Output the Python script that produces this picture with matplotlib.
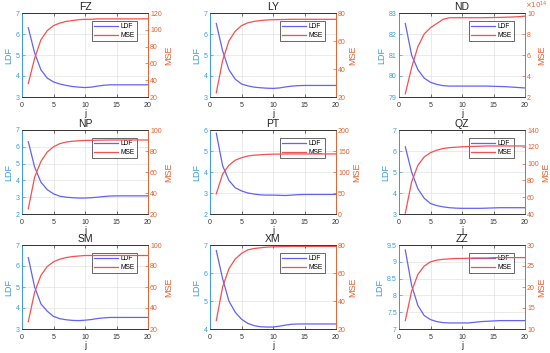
import numpy as np
import matplotlib.pyplot as plt
from matplotlib.ticker import FormatStrFormatter

plt.rcParams['font.family'] = ['Liberation Sans', 'DejaVu Sans']

# iterations
j = list(range(1, 21))

names = ["FZ", "LY", "ND", "NP", "PT", "QZ", "SM", "XM", "ZZ"]

ldf_fz = [6.3, 5.1, 4.3, 3.9, 3.72, 3.62, 3.55, 3.5, 3.47, 3.45, 3.47, 3.52, 3.56, 3.58, 3.58, 3.58, 3.58, 3.58, 3.58, 3.58]
mse_fz = [36, 66, 88, 99, 105, 108, 110, 111, 112, 112.5, 112.5, 113, 113, 113, 113, 113, 113, 113, 113, 113]

ldf_ly = [6.5, 5.2, 4.3, 3.85, 3.62, 3.53, 3.47, 3.44, 3.42, 3.41, 3.43, 3.48, 3.52, 3.54, 3.55, 3.55, 3.55, 3.55, 3.55, 3.55]
mse_ly = [23, 46, 60, 67, 71, 73, 74, 74.6, 75, 75.2, 75.3, 75.4, 75.5, 75.5, 75.5, 75.5, 75.5, 75.5, 75.5, 75.5]

ldf_nd = [82.5, 81.0, 80.3, 79.9, 79.7, 79.6, 79.54, 79.52, 79.52, 79.52, 79.52, 79.52, 79.52, 79.52, 79.51, 79.5, 79.49, 79.47, 79.45, 79.43]
mse_nd = [2.3, 4.8, 6.8, 8.0, 8.6, 9.0, 9.4, 9.55, 9.55, 9.55, 9.55, 9.55, 9.55, 9.56, 9.57, 9.58, 9.6, 9.62, 9.65, 9.7]

ldf_np = [6.3, 4.8, 3.9, 3.45, 3.2, 3.06, 3.0, 2.97, 2.95, 2.95, 2.97, 3.0, 3.04, 3.07, 3.08, 3.08, 3.08, 3.08, 3.08, 3.08]
mse_np = [25, 55, 70, 79, 84, 87, 88.5, 89.3, 89.7, 90, 90.2, 90.3, 90.4, 90.5, 90.5, 90.5, 90.5, 90.5, 90.5, 90.5]

ldf_pt = [5.85, 4.3, 3.6, 3.25, 3.1, 3.0, 2.95, 2.91, 2.9, 2.9, 2.89, 2.88, 2.9, 2.92, 2.93, 2.93, 2.93, 2.93, 2.93, 2.93]
mse_pt = [48, 95, 116, 128, 134, 138, 140, 141, 142, 142.5, 142.7, 143, 143, 143, 143, 143, 143, 143, 143, 143]

ldf_qz = [6.2, 5.0, 4.2, 3.75, 3.5, 3.4, 3.34, 3.3, 3.28, 3.27, 3.27, 3.27, 3.27, 3.28, 3.29, 3.3, 3.3, 3.3, 3.3, 3.3]
mse_qz = [41, 78, 98, 108, 113, 116, 118, 119, 119.5, 120, 120.3, 120.5, 120.7, 121, 121, 121, 121, 121, 121, 121]

ldf_sm = [6.4, 5.0, 4.2, 3.85, 3.6, 3.49, 3.44, 3.41, 3.4, 3.42, 3.45, 3.5, 3.53, 3.55, 3.55, 3.55, 3.55, 3.55, 3.55, 3.55]
mse_sm = [27, 55, 71, 79.5, 84, 86.5, 88, 89, 89.5, 90, 90, 90, 90, 90, 90, 90, 90, 90, 90, 90]

ldf_xm = [6.8, 5.8, 5.0, 4.6, 4.35, 4.2, 4.12, 4.08, 4.07, 4.07, 4.1, 4.14, 4.17, 4.18, 4.18, 4.18, 4.18, 4.18, 4.18, 4.18]
mse_xm = [26, 50, 63, 70, 74, 76.5, 77.5, 78, 78.5, 78.7, 78.8, 78.9, 79, 79, 79, 79, 79, 79, 79, 79]

ldf_zz = [9.35, 8.3, 7.7, 7.4, 7.28, 7.22, 7.19, 7.18, 7.18, 7.18, 7.18, 7.2, 7.22, 7.23, 7.24, 7.25, 7.25, 7.25, 7.25, 7.25]
mse_zz = [12, 19, 23, 25, 26, 26.4, 26.6, 26.7, 26.8, 26.8, 26.85, 26.9, 26.9, 26.9, 27, 27, 27, 27, 27, 27]

ldf_all = [ldf_fz, ldf_ly, ldf_nd, ldf_np, ldf_pt, ldf_qz, ldf_sm, ldf_xm, ldf_zz]
mse_all = [mse_fz, mse_ly, mse_nd, mse_np, mse_pt, mse_qz, mse_sm, mse_xm, mse_zz]

# axis limits / ticks for each panel
ldf_lims = [(3, 7), (3, 7), (79, 83), (2, 7), (2, 6), (3, 7), (3, 7), (4, 7), (7, 9.5)]
ldf_steps = [1, 1, 1, 1, 1, 1, 1, 1, 0.5]
mse_lims = [(20, 120), (20, 80), (2, 10), (20, 100), (0, 200), (40, 140), (20, 100), (20, 80), (10, 30)]
mse_steps = [20, 20, 2, 20, 50, 20, 20, 20, 5]

left_col = "#3a9ad9"
right_col = "#e5602f"
blue_line = "#6262f5"
red_line = "#f55050"

fig = plt.figure(figsize=(5.5, 3.53), dpi=100)

lefts = [22, 210, 399]
width = 126
tops = [13, 130, 245]
height = 84

for i, name in enumerate(names):
    r, c = divmod(i, 3)
    x0 = lefts[c] / 550
    y0 = 1 - (tops[r] + height) / 353
    ax = fig.add_axes([x0, y0, width / 550, height / 353])
    ax2 = ax.twinx()

    l1, = ax.plot(j, ldf_all[i], color=blue_line, lw=0.9, label="LDF")
    l2, = ax2.plot(j, mse_all[i], color=red_line, lw=0.9, label="MSE")

    ax.set_xlim(0, 20)
    ax.set_xticks([0, 5, 10, 15, 20])
    lo, hi = ldf_lims[i]
    ax.set_ylim(lo, hi)
    ax.set_yticks(np.arange(lo, hi + 1e-9, ldf_steps[i]))
    ax.yaxis.set_major_formatter(FormatStrFormatter("%g"))
    lo2, hi2 = mse_lims[i]
    ax2.set_ylim(lo2, hi2)
    ax2.set_yticks(np.arange(lo2, hi2 + 1e-9, mse_steps[i]))
    ax2.yaxis.set_major_formatter(FormatStrFormatter("%g"))

    ax.grid(True, color="#e2e2e2", lw=0.5)
    ax.set_axisbelow(True)

    ax.tick_params(axis="x", labelsize=5, colors="#333333", length=2, width=0.5, pad=3.5, direction="in", top=True)
    ax.tick_params(axis="y", labelsize=5, colors=left_col, length=2, width=0.5, pad=1.5, direction="in")
    ax2.tick_params(axis="y", labelsize=5, colors=right_col, length=2, width=0.5, pad=1.5, direction="in")

    ax.set_xlabel("j", fontsize=6.5, labelpad=0, color="#222222")
    ax.set_ylabel("LDF", fontsize=6.5, labelpad=2, color=left_col)
    ax2.set_ylabel("MSE", fontsize=6.5, labelpad=2, color=right_col)
    ax.set_title(name, fontsize=7.5, pad=2, color="#222222")

    for a in (ax, ax2):
        a.spines["top"].set_color("#333333")
        a.spines["bottom"].set_color("#333333")
        a.spines["left"].set_color(left_col)
        a.spines["right"].set_color(right_col)
        for s in a.spines.values():
            s.set_linewidth(0.6)

    if name == "ND":
        ax2.text(1.0, 1.02, r"$\times10^{14}$", transform=ax.transAxes,
                 fontsize=5, color=right_col, ha="left", va="bottom")

    leg = ax.legend(handles=[l1, l2], loc="upper right", fontsize=4.8,
                    bbox_to_anchor=(0.94, 0.94), frameon=True, fancybox=False,
                    handlelength=3.5, borderpad=0.3, labelspacing=0.3,
                    handletextpad=0.5)
    leg.get_frame().set_edgecolor("#222222")
    leg.get_frame().set_linewidth(0.6)
    leg.set_zorder(10)

plt.savefig("out.png", dpi=100)
